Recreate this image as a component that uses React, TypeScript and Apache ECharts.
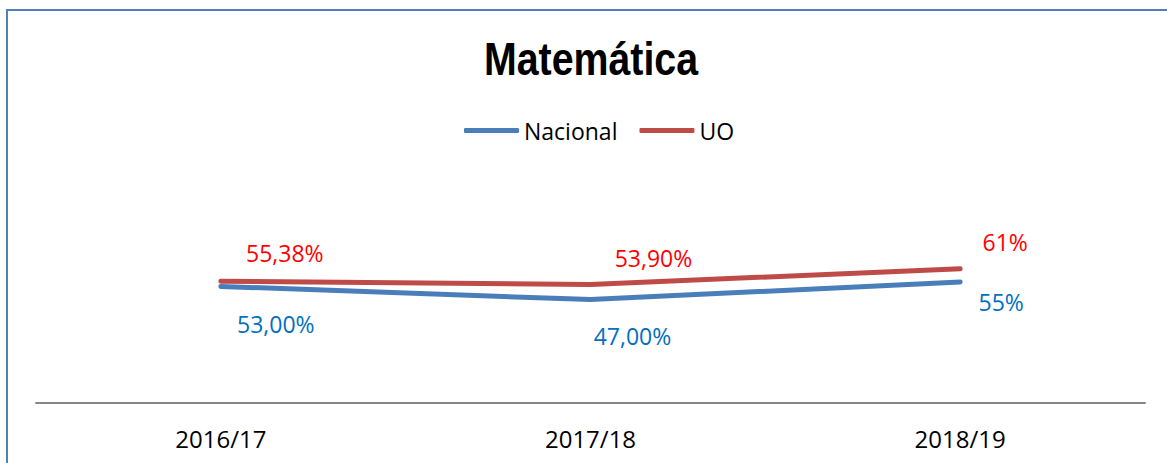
import React, { useEffect, useRef } from "react";
import * as echarts from "echarts";

const titleText = "Matemática";
const categories = ["2016/17", "2017/18", "2018/19"];
const nacionalValues = [0.53, 0.47, 0.55];
const uoValues = [0.5538, 0.539, 0.61];
const nacionalLabels = ["53,00%", "47,00%", "55%"];
const uoLabels = ["55,38%", "53,90%", "61%"];
const nacionalOffsets = [[55, 38], [42, 36], [41, 20]];
const uoOffsets = [[64, -28], [63, -26], [45, -27]];

const FONT = "'Open Sans', 'Noto Sans', sans-serif";

export default function App() {
  const ref = useRef<HTMLDivElement>(null);
  useEffect(() => {
    document.body.style.margin = "0";
    const chart = echarts.init(ref.current!, null, { renderer: "svg" });
    const mkData = (vals: number[], labels: string[], offs: number[][], color: string) =>
      vals.map((v, i) => ({
        value: v,
        label: {
          show: true,
          position: "inside",
          offset: offs[i],
          formatter: labels[i],
          color,
          fontFamily: FONT,
          fontSize: 23,
        },
      }));
    chart.setOption({
      animation: false,
      backgroundColor: "#ffffff",
      legend: {
        top: 114,
        left: 459,
        itemWidth: 55,
        itemHeight: 5,
        itemGap: 22,
        icon: "roundRect",
        textStyle: { fontFamily: FONT, fontSize: 23, color: "#000000" },
        data: ["Nacional", "UO"],
      },
      graphic: [
        {
          type: "rect",
          shape: { x: 7, y: 10, width: 1300, height: 600 },
          style: { fill: "none", stroke: "#4F81BD", lineWidth: 2 },
          silent: true,
        },
        {
          type: "text",
          x: 591,
          y: 59,
          scaleX: 0.855,
          silent: true,
          style: {
            text: titleText,
            fontFamily: "'Liberation Sans', Arial, sans-serif",
            fontWeight: "bold",
            fontSize: 46,
            fill: "#000000",
            align: "center",
            verticalAlign: "middle",
          },
        },
      ],
      grid: { left: 36, right: 22, top: 183, bottom: 60 },
      xAxis: {
        type: "category",
        data: categories,
        boundaryGap: true,
        axisLine: { lineStyle: { color: "#868686", width: 2 } },
        axisTick: { show: false },
        axisLabel: { fontFamily: FONT, fontSize: 24, color: "#000000", margin: 23 },
      },
      yAxis: {
        type: "value",
        min: 0,
        max: 1,
        show: false,
        splitLine: { show: false },
      },
      series: [
        {
          name: "Nacional",
          type: "line",
          data: mkData(nacionalValues, nacionalLabels, nacionalOffsets, "#0070C0"),
          symbol: "circle",
          symbolSize: 1,
          color: "#4A7EBB",
          itemStyle: { color: "#4A7EBB" },
          lineStyle: { color: "#4A7EBB", width: 5, cap: "round", join: "round" },
          z: 2,
        },
        {
          name: "UO",
          type: "line",
          data: mkData(uoValues, uoLabels, uoOffsets, "#FF0000"),
          symbol: "circle",
          symbolSize: 1,
          color: "#BE4B48",
          itemStyle: { color: "#BE4B48" },
          lineStyle: { color: "#BE4B48", width: 5, cap: "round", join: "round" },
          z: 3,
        },
      ],
    });
    return () => chart.dispose();
  }, []);
  return (
    <div
      ref={ref}
      style={{ position: "absolute", left: 0, top: 0, width: 1167, height: 463 }}
    />
  );
}
